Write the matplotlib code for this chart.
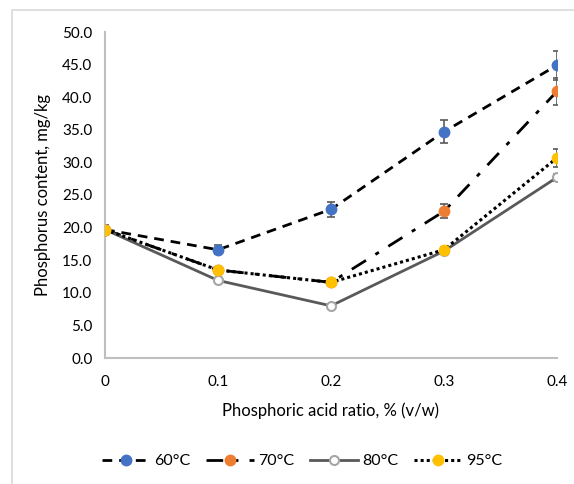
import matplotlib
matplotlib.use('Agg')
import matplotlib.pyplot as plt
from matplotlib.patches import Rectangle

plt.rcParams['font.family'] = ['Lato', 'DejaVu Sans']

ratio = [0, 0.1, 0.2, 0.3, 0.4]
tick_labels = ['0', '0.1', '0.2', '0.3', '0.4']

p60 = [19.7, 16.6, 22.8, 34.7, 44.9]
p70 = [19.7, 13.5, 11.6, 22.5, 40.9]
p80 = [19.7, 11.9, 8.0, 16.4, 27.7]
p95 = [19.7, 13.5, 11.6, 16.6, 30.7]

e60 = [0.7, 0.7, 1.1, 1.8, 2.2]
e70 = [0.5, 0.5, 0.5, 1.1, 2.1]
e80 = [0.5, 0.4, 0.3, 0.5, 0.5]
e95 = [0.5, 0.5, 0.4, 0.5, 1.4]

fig = plt.figure(figsize=(5.74, 4.84), dpi=100)
ax = fig.add_axes([105/574, (484-358)/484, (557-105)/574, (358-32)/484])

# outer chart border (Excel style)
fig.patches.append(Rectangle((12/574, -0.1), 1.2, (484-10)/484 + 0.1,
                             transform=fig.transFigure, fill=False,
                             edgecolor='#d9d9d9', lw=1.2))

series = [
    ('60°C', p60, e60, dict(color='black', ls=(0, (3.5, 2.5)), lw=2.0,
                            marker='o', mfc='#4472c4', mec='#4472c4', ms=7.5)),
    ('70°C', p70, e70, dict(color='black', ls=(0, (6, 4, 1.5, 4)), lw=2.0,
                            marker='o', mfc='#ed7d31', mec='#ed7d31', ms=7.5)),
    ('80°C', p80, e80, dict(color='#595959', ls='-', lw=2.0,
                            marker='o', mfc='white', mec='#a6a6a6', ms=6.5, mew=1.5)),
    ('95°C', p95, e95, dict(color='black', ls=(0, (1, 1)), lw=2.2,
                            marker='o', mfc='#ffc000', mec='#ffc000', ms=7.5)),
]

for label, y, err, style in series:
    ax.errorbar(ratio, y, yerr=err, fmt='none', ecolor='#595959',
                elinewidth=1.2, capsize=3, capthick=1.2, zorder=2)
    ax.plot(ratio, y, label=label, zorder=3, **style)

ax.set_xlim(0, 0.4)
ax.set_ylim(0, 50)
ax.set_xticks(ratio)
ax.set_xticklabels(tick_labels)
ax.set_yticks([i * 5 for i in range(11)])
ax.set_yticklabels([f'{i * 5:.1f}' for i in range(11)])
ax.tick_params(length=0, labelsize=11, colors='black', pad=9)
ax.tick_params(axis='x', pad=12)

for s in ['top', 'right']:
    ax.spines[s].set_visible(False)
for s in ['left', 'bottom']:
    ax.spines[s].set_color('#bfbfbf')
    ax.spines[s].set_linewidth(1.5)

ax.set_ylabel('Phosphorus content, mg/kg', fontsize=12, labelpad=8)
ax.set_xlabel('Phosphoric acid ratio, % (v/w)', fontsize=12, labelpad=10)

ax.legend(loc='center', bbox_to_anchor=(0.436, (461 - 358) / -326), ncol=4,
          frameon=False, fontsize=11.5, handlelength=3.0, columnspacing=1.0,
          handletextpad=0.25)

fig.savefig('out.png', dpi=100)
